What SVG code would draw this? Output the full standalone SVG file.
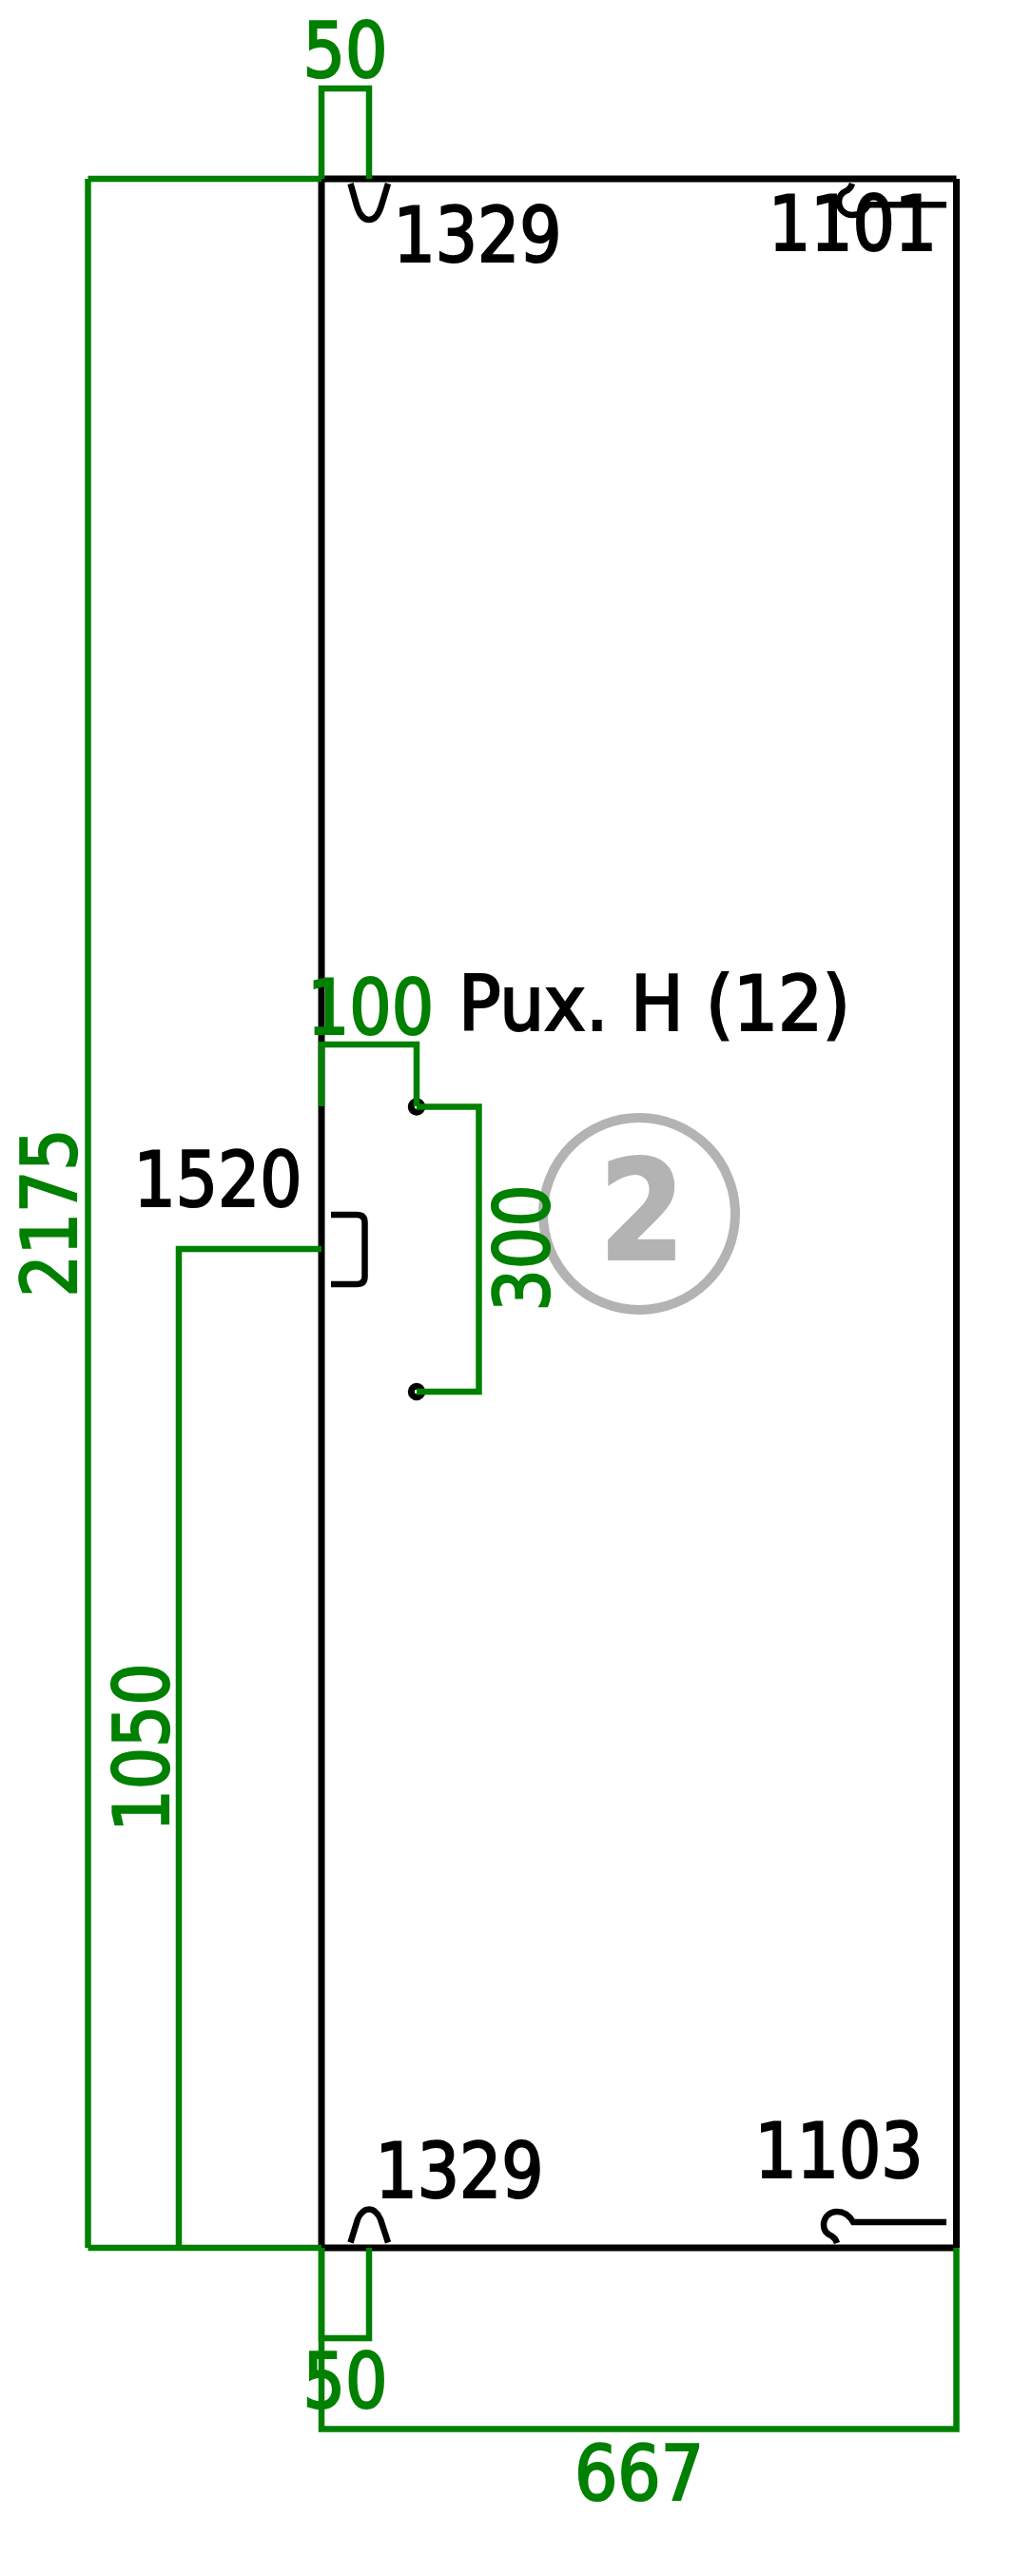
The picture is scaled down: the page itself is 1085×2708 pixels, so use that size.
<svg xmlns="http://www.w3.org/2000/svg" width="1085" height="2708" viewBox="0 0 1085 2708">
<style>
.b{fill:none;stroke:#000;stroke-width:7}
.s{fill:none;stroke:#000;stroke-width:6.5}
.g{fill:none;stroke:#008000;stroke-width:6.5}
.h{fill:#fff;stroke:#000;stroke-width:7}
text{font-family:"DejaVu Sans Condensed","DejaVu Sans",sans-serif;font-size:80px;text-anchor:middle;stroke-width:2.2px}
.l{fill:#000;stroke:#000}
.d{fill:#008000;stroke:#008000}
</style>
<rect width="1085" height="2708" fill="#fff"/>
<g id="panel">
<path class="b" d="M338 188H1005.5M338 188V2363M1005.5 188V2363M338 2363H1005.5"/>
</g>
<g id="notch-1329-top"><path class="s" d="M368.5 193L375 216C378 226 383 231 388 231C393 231 398 226 401 216L408 193"/></g>
<g id="notch-1329-bottom"><path class="s" d="M368.5 2357.5L376 2333C379 2326 383 2322.5 388 2322.500C393 2322.5 397 2326 400 2333L408 2357.5"/></g>
<g id="hook-1101"><path class="s" d="M995 215.300H913C909 222 903 226 896 226C888 226 882 220 882 212C882 206 886 202 891 200C894 198 895 196 896 193"/></g>
<g id="hook-1103"><path class="s" d="M995 2336H897C893 2329 887 2325 880 2325C872 2325 866 2331 866 2339C866 2345 870 2349 875 2351C878 2353 879 2355 880 2358"/></g>
<g id="bracket-1520"><path class="s" d="M348 1277H375Q383.500 1277 383.500 1285V1342Q383.500 1350 375 1350H348"/></g>
<g id="hole-1"><circle class="h" cx="438" cy="1163.500" r="5.750"/></g>
<g id="hole-2"><circle class="h" cx="438" cy="1463" r="5.750"/></g>
<g id="mark-2">
<circle cx="672" cy="1276" r="101" fill="none" stroke="#b3b3b3" stroke-width="10"/>
<text x="675" y="1323.500" style="font-size:146px;font-weight:bold;fill:#b3b3b3;stroke:#b3b3b3" textLength="90" lengthAdjust="spacingAndGlyphs">2</text>
</g>
<g id="connectors">
<path class="g" d="M92.500 188H338M92.500 188V2363M92.500 2363H338"/>
<path class="g" d="M338 188V93H388V188"/>
<path class="g" d="M338 2363V2458H388V2363"/>
<path class="g" d="M338 1163V1098H438V1163"/>
<path class="g" d="M438 1163.500H503.500V1463H438"/>
<path class="g" d="M338 1313H188V2363"/>
<path class="g" d="M338 2363V2553.500H1005.500V2363"/>
</g>
<g id="labels">
<text class="d" x="363" y="81" textLength="89" lengthAdjust="spacingAndGlyphs">50</text>
<text class="l" x="502" y="275" textLength="177" lengthAdjust="spacingAndGlyphs">1329</text>
<text class="l" x="896.500" y="263" textLength="177" lengthAdjust="spacingAndGlyphs">1101</text>
<text class="l" x="688" y="1083" textLength="412" lengthAdjust="spacingAndGlyphs">Pux. H (12)</text>
<text class="d" x="389.500" y="1087" textLength="133" lengthAdjust="spacingAndGlyphs">100</text>
<text class="l" x="229" y="1268" textLength="177" lengthAdjust="spacingAndGlyphs">1520</text>
<text class="d" transform="translate(80 1275) rotate(-90)" textLength="177" lengthAdjust="spacingAndGlyphs">2175</text>
<text class="d" transform="translate(177 1837) rotate(-90)" textLength="177" lengthAdjust="spacingAndGlyphs">1050</text>
<text class="d" transform="translate(577 1312) rotate(-90)" textLength="133" lengthAdjust="spacingAndGlyphs">300</text>
<text class="l" x="483" y="2310" textLength="177" lengthAdjust="spacingAndGlyphs">1329</text>
<text class="l" x="882" y="2289" textLength="177" lengthAdjust="spacingAndGlyphs">1103</text>
<text class="d" x="363" y="2531" textLength="89" lengthAdjust="spacingAndGlyphs">50</text>
<text class="d" x="672" y="2628" textLength="136" lengthAdjust="spacingAndGlyphs">667</text>
</g>
</svg>
